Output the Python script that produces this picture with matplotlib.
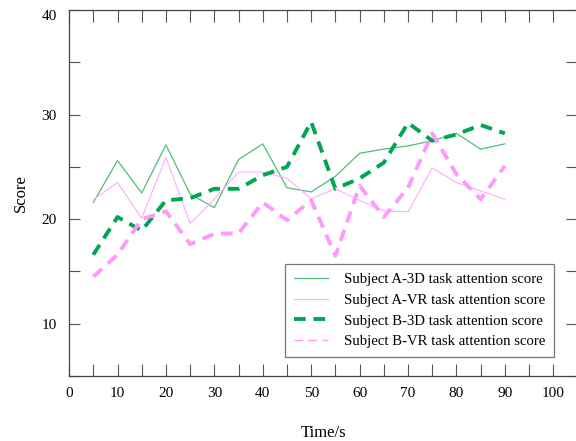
import numpy as np
import matplotlib.pyplot as plt

# datos
tiempo = [5, 10, 15, 20, 25, 30, 35, 40, 45, 50, 55, 60, 65, 70, 75, 80, 85, 90]
a_3d = [21.6, 25.6, 22.5, 27.1, 22.4, 21.1, 25.7, 27.2, 23.0, 22.6, 24.1, 26.3, 26.7, 27.0, 27.5, 28.2, 26.7, 27.2]
a_vr = [21.85, 23.5, 20.1, 25.9, 19.6, 21.9, 24.5, 24.5, 23.9, 21.95, 22.9, 21.8, 20.8, 20.7, 24.9, 23.5, 22.7, 21.9]
b_3d = [16.6, 20.2, 18.9, 21.8, 22.0, 22.9, 22.9, 24.2, 25.0, 29.3, 22.9, 23.9, 25.4, 29.2, 27.5, 28.1, 29.0, 28.2]
b_vr = [14.5, 16.6, 20.0, 20.75, 17.6, 18.6, 18.65, 21.6, 19.9, 21.8, 16.5, 23.2, 20.2, 23.0, 28.2, 24.3, 21.9, 25.1]

etiquetas = ["Subject A-3D task attention score",
             "Subject A-VR task attention score",
             "Subject B-3D task attention score",
             "Subject B-VR task attention score"]

plt.rcParams['font.family'] = ['Liberation Serif', 'DejaVu Serif']

fig = plt.figure(figsize=(5.76, 4.41), dpi=100)
ax = fig.add_axes([69.1 / 576, 1 - 376 / 441, 508.4 / 576, 366 / 441])

ax.plot(tiempo, a_3d, color="#4cc07a", lw=0.9, label=etiquetas[0])
ax.plot(tiempo, a_vr, color="#ffaaff", lw=0.8, label=etiquetas[1])
ax.plot(tiempo, b_3d, color="#00a64f", lw=2.8, ls=(0, (3, 2)), label=etiquetas[2])
ax.plot(tiempo, b_vr, color="#ff99ff", lw=2.8, ls=(0, (3, 2)), label=etiquetas[3])

ax.set_xlim(0, 105)
ax.set_ylim(5, 40)

xt = np.arange(0, 101, 5)
ax.set_xticks(xt)
ax.set_xticklabels([str(v) if v % 10 == 0 else "" for v in xt], fontsize=11)
yt = np.arange(5, 41, 5)
ax.set_yticks(yt)
ax.set_yticklabels([str(v) if v % 10 == 0 else "" for v in yt], fontsize=11)
ax.get_yticklabels()[-1].set_verticalalignment("top")

ax.tick_params(axis="x", direction="in", length=8.5, width=0.8, color="#555555",
               top=True, pad=8)
ax.tick_params(axis="y", direction="in", length=8, width=0.8, color="#555555",
               right=True, pad=9)
for s in ax.spines.values():
    s.set_color("#444444")
    s.set_linewidth(0.9)

ax.set_xlabel("Time/s", fontsize=12, labelpad=18)
ax.set_ylabel("Score", fontsize=12, labelpad=9)

leg = ax.legend(loc="lower left", bbox_to_anchor=(0.4247, 0.0519), borderaxespad=0,
                fontsize=10.6, labelspacing=0.5, handlelength=2.3, handletextpad=1.1,
                borderpad=0.6, fancybox=False, frameon=True)
leg.get_frame().set_edgecolor("#555555")
leg.get_frame().set_linewidth(0.9)
# en la leyenda la linea B-VR aparece delgada
leg.get_lines()[3].set_linewidth(1.0)
leg.get_lines()[3].set_linestyle((0, (6, 4)))

fig.savefig("out.png", dpi=100)
